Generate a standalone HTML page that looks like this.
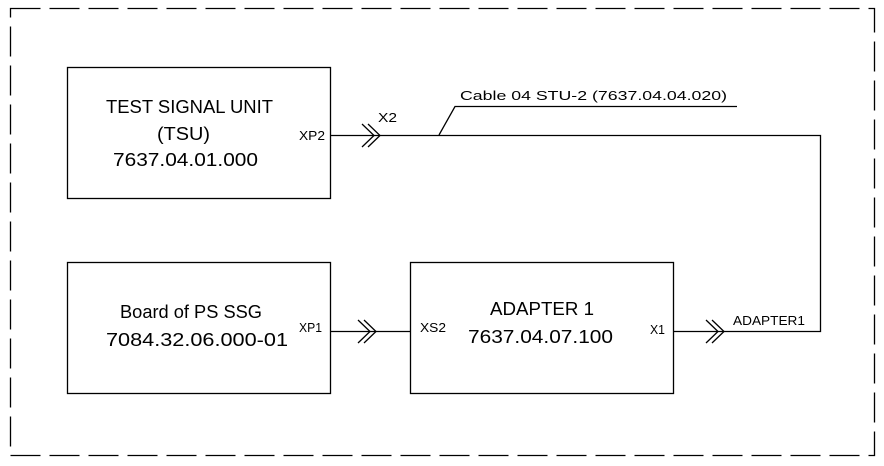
<!DOCTYPE html>
<html><head><meta charset="utf-8"><style>html,body{margin:0;padding:0;background:#fff}svg{display:block}</style></head>
<body>
<svg width="884" height="466" viewBox="0 0 884 466" xmlns="http://www.w3.org/2000/svg" font-family="Liberation Sans, sans-serif" fill="none" stroke="#000">
<rect x="10.5" y="8.5" width="864" height="447" stroke-width="1.3" stroke-dasharray="30,9"/>
<rect x="67.5" y="67.5" width="263" height="131" stroke-width="1.3"/>
<rect x="67.5" y="262.5" width="263" height="131" stroke-width="1.3"/>
<rect x="410.5" y="262.5" width="263" height="131" stroke-width="1.3"/>
<g stroke-width="1.3">
<polyline points="330,135.5 820.5,135.5 820.5,331.5 673,331.5"/>
<line x1="330" y1="331.5" x2="410" y2="331.5"/>
<polyline points="439,135 455,106.5 737,106.5"/>
<polyline points="362,124 374,135.5 362,147"/><polyline points="368,124 380,135.5 368,147"/>
<polyline points="358,320 370,331.5 358,343"/><polyline points="364,320 376,331.5 364,343"/>
<polyline points="706,320 718,331.5 706,343"/><polyline points="712,320 724,331.5 712,343"/>
</g>
<g fill="#000" stroke="none" font-size="18">
<text x="106" y="113" textLength="167" lengthAdjust="spacingAndGlyphs">TEST SIGNAL UNIT</text>
<text x="157" y="140" textLength="53" lengthAdjust="spacingAndGlyphs">(TSU)</text>
<text x="113" y="166" textLength="145" lengthAdjust="spacingAndGlyphs">7637.04.01.000</text>
<text x="120" y="318" textLength="142" lengthAdjust="spacingAndGlyphs">Board of PS SSG</text>
<text x="106" y="346" textLength="182" lengthAdjust="spacingAndGlyphs">7084.32.06.000-01</text>
<text x="490" y="315" textLength="104" lengthAdjust="spacingAndGlyphs">ADAPTER 1</text>
<text x="468" y="343" textLength="145" lengthAdjust="spacingAndGlyphs">7637.04.07.100</text>
</g>
<g fill="#000" stroke="none" font-size="13">
<text x="299" y="140" textLength="26" lengthAdjust="spacingAndGlyphs">XP2</text>
<text x="378" y="122" textLength="19" lengthAdjust="spacingAndGlyphs">X2</text>
<text x="299" y="332" textLength="23" lengthAdjust="spacingAndGlyphs">XP1</text>
<text x="420" y="332" textLength="26" lengthAdjust="spacingAndGlyphs">XS2</text>
<text x="650" y="334" textLength="15" lengthAdjust="spacingAndGlyphs">X1</text>
<text x="733" y="325" textLength="72" lengthAdjust="spacingAndGlyphs">ADAPTER1</text>
<text x="460" y="100" textLength="267" lengthAdjust="spacingAndGlyphs">Cable 04 STU-2 (7637.04.04.020)</text>
</g>
</svg>
</body></html>
